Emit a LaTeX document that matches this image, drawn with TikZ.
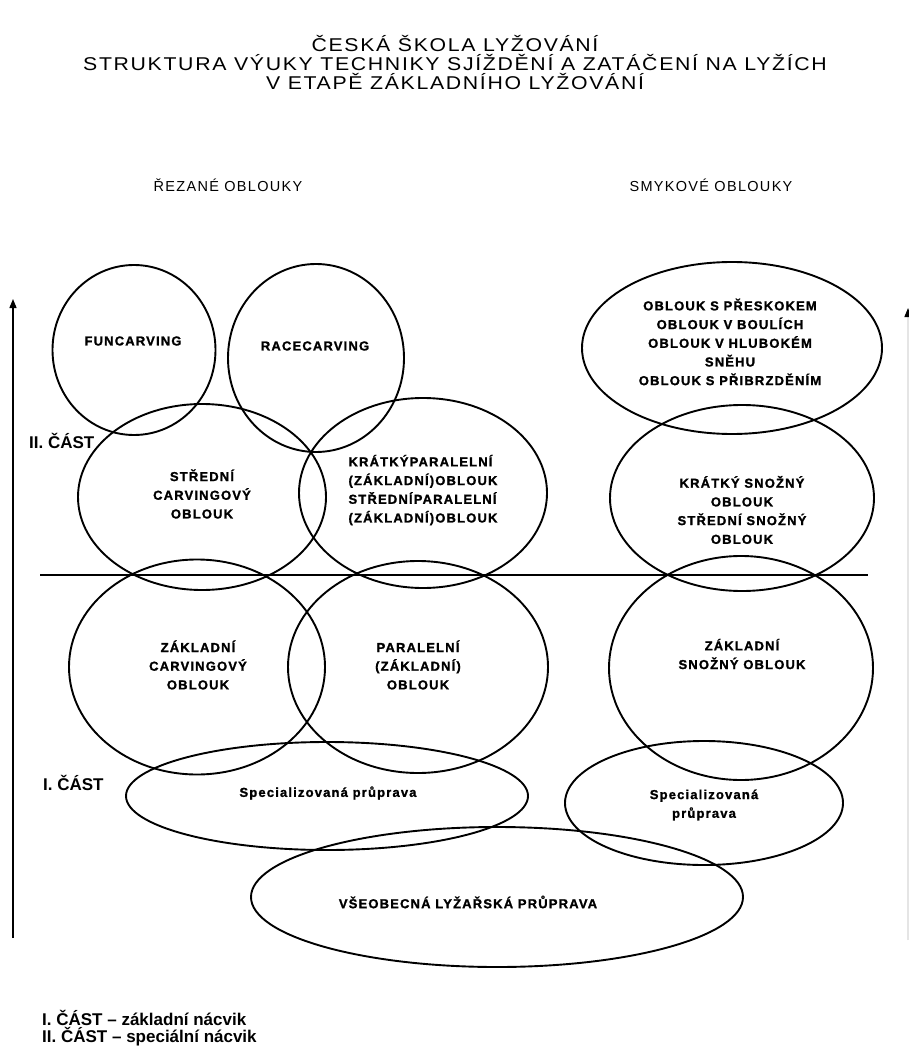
\documentclass[tikz,border=0pt]{standalone}
\usepackage{fontspec}
\setmainfont{Liberation Sans}
\newfontfamily\inlblfont[LetterSpace=9,BoldFeatures={FakeBold=1.3}]{Liberation Sans}
\newfontfamily\ttlfont[LetterSpace=9,FakeStretch=1.15]{Liberation Sans}
\newfontfamily\hdrfont[LetterSpace=9]{Liberation Sans}
\usetikzlibrary{shapes.geometric,arrows.meta}
\begin{document}
\begin{tikzpicture}[x=1pt,y=-1pt,
  oval/.style={draw,ellipse,line width=1.9pt,inner sep=0pt,outer sep=0pt},
  lbl/.style={font=\inlblfont\bfseries\fontsize{13}{18.7}\selectfont,align=center,inner sep=0pt},
  side/.style={font=\bfseries\fontsize{17}{17}\selectfont,anchor=west,inner sep=0pt,align=left},
  hdr/.style={font=\hdrfont\fontsize{14.5}{16}\selectfont,inner sep=0pt},
  ttl/.style={font=\ttlfont\fontsize{18.5}{19}\selectfont,align=center,inner sep=0pt},
  axis/.style={line width=1.4pt,-{Triangle[width=7pt,length=9pt]}}]
\useasboundingbox[fill=white] (0,0) rectangle (908,1048);

% title and headers
\node[ttl] (title) at (455,63) {ČESKÁ ŠKOLA LYŽOVÁNÍ\\STRUKTURA VÝUKY TECHNIKY SJÍŽDĚNÍ A ZATÁČENÍ NA LYŽÍCH\\V ETAPĚ ZÁKLADNÍHO LYŽOVÁNÍ};
\node[hdr] (hrez) at (228,185) {ŘEZANÉ OBLOUKY};
\node[hdr] (hsmyk) at (711,185) {SMYKOVÉ OBLOUKY};

% axis
\coordinate (axb) at (13,938);
\coordinate (axt) at (13,299);
\draw[axis] (axb) -- (axt);
\coordinate (raxb) at (908,940);
\coordinate (raxt) at (908,308);
\draw[line width=1.4pt,draw=black!10,-{Triangle[width=7pt,length=9pt,color=black]}] (raxb) -- (raxt);

% divider
\coordinate (dl) at (40,575);
\coordinate (dr) at (868,575);
\draw[line width=1.2pt] (dl) -- (dr);

% ellipses
\node[oval,minimum width=163pt,minimum height=170pt] (fun) at (134,350) {};
\node[oval,minimum width=176pt,minimum height=188pt] (race) at (316,358) {};
\node[oval,minimum width=248pt,minimum height=186pt] (scarv) at (202,497) {};
\node[oval,minimum width=248pt,minimum height=190pt] (kpar) at (423,493) {};
\node[oval,minimum width=256pt,minimum height=215pt] (zcarv) at (197,667) {};
\node[oval,minimum width=260pt,minimum height=212pt] (par) at (418,667) {};
\node[oval,minimum width=300pt,minimum height=172pt] (skok) at (732,348) {};
\node[oval,minimum width=264pt,minimum height=186pt] (ksnoz) at (742,498) {};
\node[oval,minimum width=264pt,minimum height=224pt] (zsnoz) at (741,668) {};
\node[oval,minimum width=402pt,minimum height=108pt] (specL) at (327,796) {};
\node[oval,minimum width=278pt,minimum height=124pt] (specR) at (704,803) {};
\node[oval,minimum width=492pt,minimum height=140pt] (vseob) at (497,897) {};

% labels in ellipses
\node[lbl] (tfun) at (133,341) {FUNCARVING};
\node[lbl] (trace) at (315,346) {RACECARVING};
\node[lbl] (tscarv) at (202,494) {STŘEDNÍ\\CARVINGOVÝ\\OBLOUK};
\node[lbl,align=left] (tkpar) at (423,490) {KRÁTKÝPARALELNÍ\\(ZÁKLADNÍ)OBLOUK\\STŘEDNÍPARALELNÍ\\(ZÁKLADNÍ)OBLOUK};
\node[lbl] (tskok) at (730,342) {OBLOUK S PŘESKOKEM\\OBLOUK V BOULÍCH\\OBLOUK V HLUBOKÉM\\SNĚHU\\OBLOUK S PŘIBRZDĚNÍM};
\node[lbl] (tksnoz) at (742,510) {KRÁTKÝ SNOŽNÝ\\OBLOUK\\STŘEDNÍ SNOŽNÝ\\OBLOUK};
\node[lbl] (tzcarv) at (198,665) {ZÁKLADNÍ\\CARVINGOVÝ\\OBLOUK};
\node[lbl] (tpar) at (418,665) {PARALELNÍ\\(ZÁKLADNÍ)\\OBLOUK};
\node[lbl] (tzsnoz) at (742,654) {ZÁKLADNÍ\\SNOŽNÝ OBLOUK};
\node[lbl] (tspecL) at (328,793) {Specializovaná průprava};
\node[lbl] (tspecR) at (704,805) {Specializovaná\\průprava};
\node[lbl] (tvseob) at (468,902) {VŠEOBECNÁ LYŽAŘSKÁ PRŮPRAVA};

% side labels
\node[side] (cast2) at (29,441) {II. ČÁST};
\node[side] (cast1) at (43,783) {I. ČÁST};
\node[side] (legend) at (42,1028) {I. ČÁST – základní nácvik\\II. ČÁST – speciální nácvik};
\end{tikzpicture}
\end{document}
